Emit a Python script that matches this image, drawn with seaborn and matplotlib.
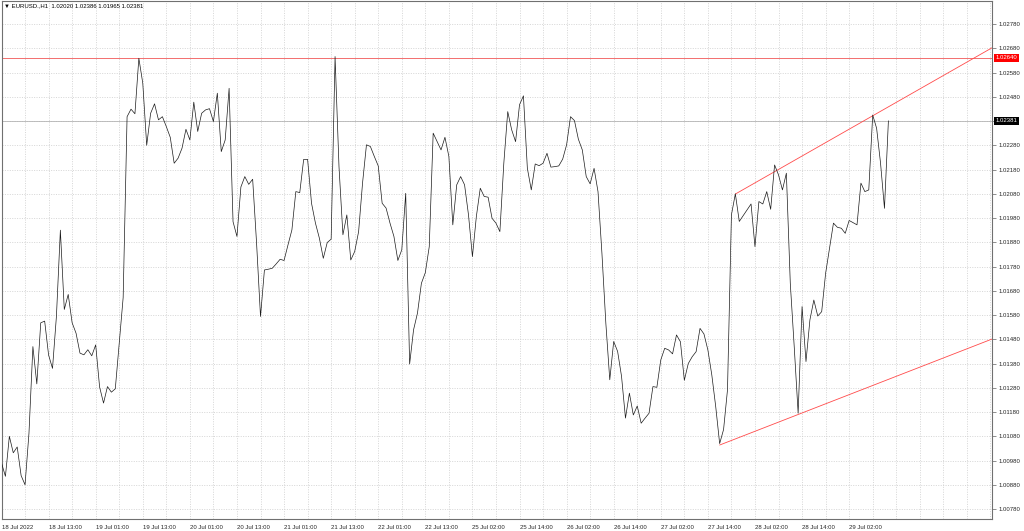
import matplotlib
matplotlib.use("Agg")
import matplotlib.pyplot as plt
import matplotlib.transforms as mtransforms
import pandas as pd
import seaborn as sns

# hourly closes, EURUSD H1, 18 Jul - 29 Jul 2022
close = [
    1.00970, 1.00915, 1.01080, 1.01012, 1.01036, 1.00918, 1.00880, 1.01093, 1.01450, 1.01296,
    1.01548, 1.01555, 1.01415, 1.01360, 1.01576, 1.01930, 1.01603, 1.01665, 1.01548, 1.01505,
    1.01423, 1.01416, 1.01437, 1.01412, 1.01457, 1.01283, 1.01217, 1.01285, 1.01262, 1.01276,
    1.01463, 1.01652, 1.02398, 1.02429, 1.02410, 1.02639, 1.02536, 1.02280, 1.02412, 1.02451,
    1.02385, 1.02398, 1.02357, 1.02313, 1.02206, 1.02227, 1.02268, 1.02346, 1.02302, 1.02458,
    1.02337, 1.02412, 1.02426, 1.02431, 1.02378, 1.02495, 1.02254, 1.02302, 1.02515, 1.01965,
    1.01904, 1.02108, 1.02151, 1.02119, 1.02140, 1.01876, 1.01574, 1.01766, 1.01769, 1.01773,
    1.01791, 1.01810, 1.01805, 1.01869, 1.01931, 1.02089, 1.02085, 1.02222, 1.02222, 1.02041,
    1.01959, 1.01897, 1.01814, 1.01879, 1.01893, 1.02646, 1.02192, 1.01911, 1.01993, 1.01807,
    1.01842, 1.01924, 1.02124, 1.02282, 1.02275, 1.02234, 1.02195, 1.02041, 1.02021, 1.01959,
    1.01904, 1.01805, 1.01849, 1.02082, 1.01378, 1.01519, 1.01588, 1.01711, 1.01755, 1.01862,
    1.02330, 1.02295, 1.02261, 1.02313, 1.02234, 1.01952, 1.02117, 1.02151, 1.02117, 1.01993,
    1.01821, 1.01986, 1.02103, 1.02069, 1.02066, 1.01979, 1.01959, 1.01924, 1.02206, 1.02419,
    1.02344, 1.02295, 1.02447, 1.02484, 1.02185, 1.02096, 1.02203, 1.02196, 1.02206, 1.02247,
    1.02190, 1.02192, 1.02195, 1.02223, 1.02282, 1.02398, 1.02382, 1.02305, 1.02261, 1.02151,
    1.02121, 1.02185, 1.02089, 1.01835, 1.01546, 1.01313, 1.01471, 1.01430, 1.01327, 1.01155,
    1.01258, 1.01168, 1.01205, 1.01134, 1.01155, 1.01175, 1.01285, 1.01282, 1.01395, 1.01443,
    1.01436, 1.01420, 1.01498, 1.01470, 1.01311, 1.01380, 1.01408, 1.01429, 1.01525, 1.01502,
    1.01436, 1.01333, 1.01202, 1.01050, 1.01108, 1.01272, 1.01993, 1.02080, 1.01966, 1.01990,
    1.02014, 1.02038, 1.01862, 1.02048, 1.02038, 1.02089, 1.02016, 1.02199, 1.02158, 1.02096,
    1.02165, 1.01711, 1.01450, 1.01175, 1.01615, 1.01388, 1.01560, 1.01642, 1.01576, 1.01594,
    1.01752, 1.01855, 1.01959, 1.01942, 1.01938, 1.01917, 1.01970, 1.01961, 1.01952, 1.02124,
    1.02089, 1.02096, 1.02405, 1.02350, 1.02206, 1.02020, 1.02381,
]
bars = list(range(len(close)))

time_tick_bars = [0, 12, 24, 36, 48, 60, 72, 84, 96, 108, 120, 132, 144, 156, 168, 180, 192, 204, 216]
time_tick_labels = ["18 Jul 2022", "18 Jul 13:00", "19 Jul 01:00", "19 Jul 13:00", "20 Jul 01:00",
                    "20 Jul 13:00", "21 Jul 01:00", "21 Jul 13:00", "22 Jul 01:00", "22 Jul 13:00",
                    "25 Jul 02:00", "25 Jul 14:00", "26 Jul 02:00", "26 Jul 14:00", "27 Jul 02:00",
                    "27 Jul 14:00", "28 Jul 02:00", "28 Jul 14:00", "29 Jul 02:00"]
price_ticks = [1.00780, 1.00880, 1.00980, 1.01080, 1.01180, 1.01280, 1.01380, 1.01480, 1.01580,
               1.01680, 1.01780, 1.01880, 1.01980, 1.02080, 1.02180, 1.02280, 1.02380, 1.02480,
               1.02580, 1.02680, 1.02780]

level_price = 1.02640
bid_price = 1.02381
upper_trend_bars = [187, 252.4]
upper_trend_prices = [1.02079, 1.02682]
lower_trend_bars = [183, 252.4]
lower_trend_prices = [1.01044, 1.01481]
header = "\u25bc EURUSD.,H1  1.02020 1.02386 1.01965 1.02381"

sns.set_style("white")
plt.rcParams["font.family"] = ["Liberation Sans", "DejaVu Sans"]
fs = 4.3

fig = plt.figure(figsize=(10.24, 5.31), dpi=100)
ax = fig.add_axes([1.5 / 1024, 12 / 531, 990.5 / 1024, 518 / 531])

# grid like the terminal: every 6 bars and every 10 pips
for b in range(0, 253, 6):
    ax.axvline(b, color="#c8c8c8", lw=0.5, ls=(0, (1.5, 2)), zorder=0)
for p in price_ticks:
    ax.axhline(p, color="#c8c8c8", lw=0.5, ls=(0, (1.5, 2)), zorder=0)

ax.axhline(bid_price, color="#b4b4b4", lw=0.6, zorder=1)
ax.axhline(level_price, color="#f04848", lw=0.55, zorder=1)

df = pd.DataFrame({"bar": bars, "close": close})
sns.lineplot(data=df, x="bar", y="close", color="#1a1a1a", linewidth=0.5, ax=ax, zorder=3)

ax.plot(upper_trend_bars, upper_trend_prices, color="#ff4a4a", lw=0.6, zorder=2)
ax.plot(lower_trend_bars, lower_trend_prices, color="#ff4a4a", lw=0.6, zorder=2)

ax.set_xlim(0, 252.4)
ax.set_ylim(1.00739, 1.02875)
ax.set_xlabel("")
ax.set_ylabel("")

ax.set_xticks(time_tick_bars)
ax.set_xticklabels(time_tick_labels, ha="left", fontsize=fs)
ax.yaxis.tick_right()
ax.set_yticks(price_ticks)
ax.set_yticklabels(["" if abs(p - bid_price) < 0.0005 else f"{p:.5f}" for p in price_ticks], fontsize=fs)
ax.tick_params(axis="x", direction="out", length=3, width=0.5, color="#606060", pad=1)
ax.tick_params(axis="y", direction="out", length=3, width=0.5, color="#606060", pad=2)

for s in ax.spines.values():
    s.set_color("#707070")
    s.set_linewidth(0.8)

trans = mtransforms.blended_transform_factory(ax.transAxes, ax.transData)
ax.text(1.0038, level_price, f"{level_price:.5f}", transform=trans, va="center", ha="left",
        color="white", fontsize=fs, clip_on=False,
        bbox=dict(boxstyle="square,pad=0.3", fc="#ff0000", ec="none"))
ax.text(1.0038, bid_price, f"{bid_price:.5f}", transform=trans, va="center", ha="left",
        color="white", fontsize=fs, clip_on=False,
        bbox=dict(boxstyle="square,pad=0.3", fc="black", ec="none"))

fig.text(3.5 / 1024, 1 - 6 / 531, header, fontsize=fs, va="center", ha="left", color="black")

fig.savefig("out.png", dpi=100)
